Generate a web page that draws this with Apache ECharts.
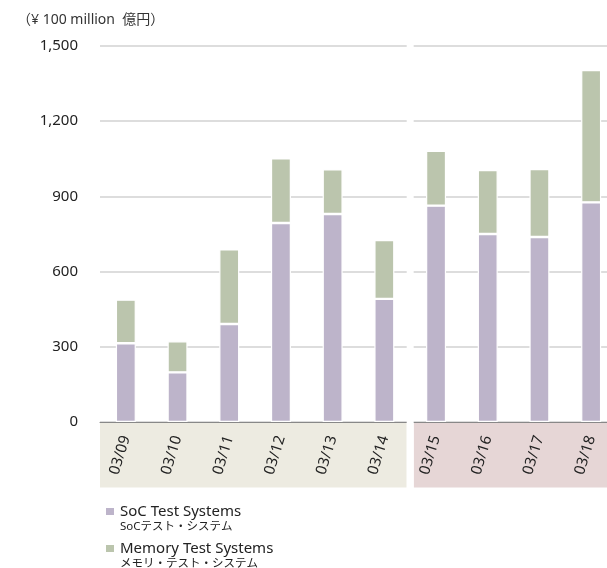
<!DOCTYPE html>
<html>
<head>
<meta charset="utf-8">
<script src="https://cdn.jsdelivr.net/npm/echarts@6/dist/echarts.min.js"></script>
<style>
  html, body { margin: 0; padding: 0; background: #fff; }
  #chart { width: 607px; height: 568px; }
</style>
</head>
<body>
<div id="chart"></div>
<script>
// values in ¥100 million
const months = ['03/09', '03/10', '03/11', '03/12', '03/13', '03/14', '03/15', '03/16', '03/17', '03/18'];
const socValues = [314, 198, 391, 794, 830, 491, 863, 750, 738, 876];
const memoryValues = [174, 124, 298, 258, 178, 235, 219, 255, 271, 528];
const seriesNames = ['SoC Test Systems', 'Memory Test Systems'];
const seriesNamesJa = ['SoCテスト・システム', 'メモリ・テスト・システム'];
const yTicks = [0, 300, 600, 900, 1200, 1500];

const fontFamily = "'Noto Sans', 'Noto Sans CJK JP', sans-serif";
const socColor = '#bdb4ca';
const memColor = '#bbc5ad';

const myChart = echarts.init(document.getElementById('chart'));

const option = {
    animation: false,
    textStyle: { fontFamily: fontFamily },
    title: {
        text: '（¥ 100 million  億円）',
        left: 12,
        top: 8,
        textStyle: { fontSize: 14, fontWeight: 'normal', color: '#333', fontFamily: fontFamily }
    },
    grid: {
        left: 100,
        top: 46,
        width: 517,
        bottom: 146,
        outerBoundsMode: 'none',
        containLabel: false
    },
    legend: {
        orient: 'vertical',
        left: 99,
        top: 497,
        itemWidth: 10,
        itemHeight: 9,
        itemGap: 18,
        icon: 'rect',
        data: seriesNames,
        textStyle: { fontSize: 15, lineHeight: 19, color: '#222', fontFamily: fontFamily }
    },
    xAxis: {
        type: 'category',
        data: months,
        axisTick: { show: false },
        axisLine: { lineStyle: { color: '#888', width: 1 } },
        axisLabel: {
            rotate: 73,
            margin: 14,
            fontSize: 15,
            color: '#222',
            fontFamily: fontFamily
        }
    },
    yAxis: {
        type: 'value',
        min: yTicks[0],
        max: yTicks[yTicks.length - 1],
        interval: 300,
        axisLine: { show: false },
        axisTick: { show: false },
        splitLine: { lineStyle: { color: '#d2d2d2', width: 1.5 } },
        axisLabel: {
            margin: 22,
            fontSize: 15,
            color: '#222',
            fontFamily: fontFamily,
            formatter: v => v.toLocaleString('en-US')
        }
    },
    series: [
        {
            name: seriesNames[0],
            type: 'bar',
            stack: 'total',
            barWidth: 20,
            data: socValues,
            itemStyle: { color: socColor, borderColor: '#fff', borderWidth: 1.2 }
        },
        {
            name: seriesNames[1],
            type: 'bar',
            stack: 'total',
            barWidth: 20,
            data: memoryValues,
            itemStyle: { color: memColor, borderColor: '#fff', borderWidth: 1.2 }
        }
    ]
};
myChart.setOption(option);

// background bands under the axis, and the break between the two periods
const xFirst = myChart.convertToPixel({ xAxisIndex: 0 }, months[0]);
const xA = myChart.convertToPixel({ xAxisIndex: 0 }, months[5]);
const xB = myChart.convertToPixel({ xAxisIndex: 0 }, months[6]);
const band = xB - xA;
const mid = (xA + xB) / 2;
const y0 = myChart.convertToPixel({ yAxisIndex: 0 }, 0);
const yTop = myChart.convertToPixel({ yAxisIndex: 0 }, yTicks[yTicks.length - 1]);
const gap = 7;
const bandH = 65;

myChart.setOption({
    graphic: {
        elements: [
            {
                type: 'rect', z: -10, silent: true,
                shape: { x: xFirst - band / 2, y: y0 + 0.5, width: mid - gap / 2 - (xFirst - band / 2), height: bandH },
                style: { fill: '#edebe1' }
            },
            {
                type: 'rect', z: -10, silent: true,
                shape: { x: mid + gap / 2, y: y0 + 0.5, width: 607 - (mid + gap / 2), height: bandH },
                style: { fill: '#e6d6d6' }
            },
            {
                type: 'rect', z: 100, silent: true,
                shape: { x: mid - gap / 2, y: yTop - 2, width: gap, height: y0 - yTop + bandH + 4 },
                style: { fill: '#fff' }
            },
            {
                type: 'text', left: 120, top: 521, silent: true,
                style: { text: seriesNamesJa[0], fontSize: 11.5, fill: '#222', fontFamily: fontFamily }
            },
            {
                type: 'text', left: 120, top: 558, silent: true,
                style: { text: seriesNamesJa[1], fontSize: 11.5, fill: '#222', fontFamily: fontFamily }
            }
        ]
    }
});
</script>
</body>
</html>
